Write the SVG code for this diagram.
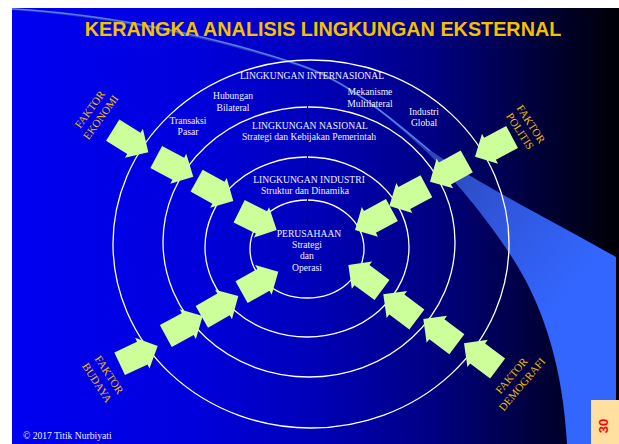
<svg xmlns="http://www.w3.org/2000/svg" xmlns:xlink="http://www.w3.org/1999/xlink" width="619" height="444" viewBox="0 0 619 444">
  <defs>
    <linearGradient id="bg" gradientUnits="userSpaceOnUse" x1="12" y1="0" x2="619" y2="0">
      <stop offset="0" stop-color="#0000F2"/>
      <stop offset="0.3" stop-color="#0000DC"/>
      <stop offset="0.5" stop-color="#0000B8"/>
      <stop offset="0.7" stop-color="#000080"/>
      <stop offset="0.85" stop-color="#000040"/>
      <stop offset="1" stop-color="#000005"/>
    </linearGradient>
    <linearGradient id="swoosh" gradientUnits="userSpaceOnUse" x1="420" y1="140" x2="590" y2="270">
      <stop offset="0" stop-color="#2A44B0"/>
      <stop offset="0.55" stop-color="#3058E0"/>
      <stop offset="1" stop-color="#3366FF"/>
    </linearGradient>
    <!-- block arrow, tip at origin, pointing along +x -->
    <polygon id="arw" points="0,0 -17,-17 -17,-12.5 -42,-12.5 -42,12.5 -17,12.5 -17,17"/>
    <style>
      .ring { fill: none; stroke: #FFFFFF; stroke-width: 1.3; }
      .lbl { font-family: "Liberation Serif", "Times New Roman", serif; font-size: 9.6px; fill: #F0F0FF; text-anchor: middle; }
      .fak { font-family: "Liberation Serif", "Times New Roman", serif; font-size: 11px; fill: #F0C000; text-anchor: middle; }
      .arrows use { fill: #CCFF99; }
    </style>
  </defs>

  <!-- page -->
  <rect x="0" y="0" width="619" height="444" fill="#FFFFFF"/>
  <rect x="12" y="8" width="607" height="436" fill="url(#bg)"/>

  <!-- light swoosh across the slide -->
  <path d="M12 8 C120 14 230 40 300 64 C350 80 400 125 430 150 C480 185 560 225 616 257 L616 444 L567 444 C563 370 545 310 515 262 C490 222 455 180 428 153 C390 118 350 84 300 66.5 C230 43 120 17 12 10 Z" fill="url(#swoosh)"/>
  <path d="M12 8.8 C120 15 230 41 300 65 C350 82 395 122 430 151" fill="none" stroke="#5A80FF" stroke-width="1.3"/>

  <!-- title -->
  <text x="323" y="36" font-family="Liberation Sans, Arial, sans-serif" font-weight="bold" font-size="19.8" fill="#F2C200" text-anchor="middle">KERANGKA ANALISIS LINGKUNGAN EKSTERNAL</text>

  <!-- concentric environments -->
  <g id="rings">
    <ellipse id="ring-internasional" class="ring" cx="311" cy="244" rx="198" ry="184"/>
    <ellipse id="ring-nasional" class="ring" cx="309" cy="242" rx="146" ry="135"/>
    <ellipse id="ring-industri" class="ring" cx="307" cy="247" rx="102" ry="90"/>
    <ellipse id="ring-perusahaan" class="ring" cx="307" cy="249" rx="57" ry="49"/>
  </g>

  <!-- vertical axis with tick heads -->
  <g id="axis" fill="#000000">
    <line x1="307.5" y1="83" x2="307.5" y2="224" stroke="#000000" stroke-width="1"/>
    <polygon points="306,83 309,83 307.5,86.5"/>
    <polygon points="306,111 309,111 307.5,114.5"/>
    <polygon points="306,140 309,140 307.5,143.5"/>
    <polygon points="306,167 309,167 307.5,170.5"/>
    <polygon points="306,195 309,195 307.5,198.5"/>
    <polygon points="306,221 309,221 307.5,224.5"/>
  </g>

  <!-- ring labels -->
  <g id="node-internasional">
    <text class="lbl" x="312" y="79">LINGKUNGAN INTERNASIONAL</text>
    <text class="lbl" x="233" y="99">Hubungan</text>
    <text class="lbl" x="233" y="111">Bilateral</text>
    <text class="lbl" x="370" y="95">Mekanisme</text>
    <text class="lbl" x="370" y="107">Multilateral</text>
    <text class="lbl" x="188" y="124">Transaksi</text>
    <text class="lbl" x="188" y="135">Pasar</text>
    <text class="lbl" x="424" y="115">Industri</text>
    <text class="lbl" x="424" y="126">Global</text>
  </g>
  <g id="node-nasional">
    <text class="lbl" x="310" y="129">LINGKUNGAN NASIONAL</text>
    <text class="lbl" x="309" y="139.5">Strategi dan Kebijakan Pemerintah</text>
  </g>
  <g id="node-industri">
    <text class="lbl" x="309" y="183">LINGKUNGAN INDUSTRI</text>
    <text class="lbl" x="305" y="193.5">Struktur dan Dinamika</text>
  </g>
  <g id="node-perusahaan">
    <text class="lbl" x="309" y="237">PERUSAHAAN</text>
    <text class="lbl" x="307" y="247.5">Strategi</text>
    <text class="lbl" x="307" y="259">dan</text>
    <text class="lbl" x="307" y="271">Operasi</text>
  </g>

  <!-- external factors -->
  <g id="faktor-ekonomi" transform="translate(90 109.5) rotate(-54)">
    <text class="fak" x="0" y="3.5">FAKTOR</text>
    <text class="fak" x="0" y="17">EKONOMI</text>
  </g>
  <g id="faktor-politis" transform="translate(530.8 124.2) rotate(57)">
    <text class="fak" x="0" y="3.5">FAKTOR</text>
    <text class="fak" x="0" y="16.6">POLITIS</text>
  </g>
  <g id="faktor-budaya" transform="translate(109 375) rotate(57)">
    <text class="fak" x="0" y="3.5">FAKTOR</text>
    <text class="fak" x="0" y="18">BUDAYA</text>
  </g>
  <g id="faktor-demografi" transform="translate(511.7 375.8) rotate(-50)">
    <text class="fak" x="0" y="3.5">FAKTOR</text>
    <text class="fak" x="0" y="17">DEMOGRAFI</text>
  </g>

  <!-- influence arrows toward the firm -->
  <g id="connectors" class="arrows">
    <use xlink:href="#arw" transform="translate(148.3 152.3) rotate(32)"/>
    <use xlink:href="#arw" transform="translate(193.3 176.7) rotate(28)"/>
    <use xlink:href="#arw" transform="translate(233.3 201) rotate(29)"/>
    <use xlink:href="#arw" transform="translate(276.7 230) rotate(26.5)"/>

    <use xlink:href="#arw" transform="translate(475 156.7) rotate(152)"/>
    <use xlink:href="#arw" transform="translate(430 181.7) rotate(151)"/>
    <use xlink:href="#arw" transform="translate(389.3 206) rotate(152)"/>
    <use xlink:href="#arw" transform="translate(355 230) rotate(151.5)"/>

    <use xlink:href="#arw" transform="translate(157.7 346) rotate(-25)"/>
    <use xlink:href="#arw" transform="translate(202.7 316) rotate(-28.5)"/>
    <use xlink:href="#arw" transform="translate(238.3 296) rotate(-29.7)"/>
    <use xlink:href="#arw" transform="translate(278.3 271.7) rotate(-29)"/>

    <use xlink:href="#arw" transform="translate(348.3 265) rotate(-143.4)"/>
    <use xlink:href="#arw" transform="translate(383.3 294.3) rotate(-143)"/>
    <use xlink:href="#arw" transform="translate(423.3 319) rotate(-143)"/>
    <use xlink:href="#arw" transform="translate(464 343.3) rotate(-143.2)"/>
  </g>

  <!-- footer -->
  <text x="23" y="439" font-family="Liberation Serif, Times New Roman, serif" font-size="9.6" fill="#F0F0FF">© 2017  Titik Nurbiyati</text>
  <rect x="591" y="400" width="28" height="44" fill="#FFE0A0"/>
  <text transform="translate(608 426) rotate(-90)" font-family="Liberation Sans, Arial, sans-serif" font-weight="bold" font-size="13" fill="#FF0000" text-anchor="middle">30</text>
</svg>
